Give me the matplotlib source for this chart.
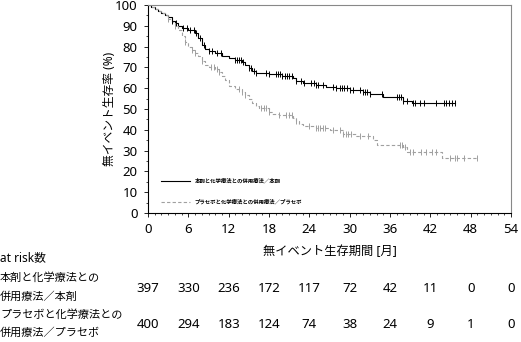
import numpy as np
import matplotlib
matplotlib.use('Agg')
import matplotlib.pyplot as plt
import matplotlib.transforms as mtransforms
from matplotlib.ticker import MultipleLocator

plt.rcParams['font.family'] = ['Noto Sans', 'Noto Sans CJK JP', 'DejaVu Sans']

# Kaplan-Meier step points (months, %)
drug_t = [0, 0.5, 1, 1.5, 2, 2.5, 3, 3.5, 4, 4.5, 5, 6, 7, 7.5, 8, 8.5, 9, 10, 11, 12,
          13, 14, 14.5, 15, 15.5, 16, 18, 20, 21.5, 22, 23, 25, 26.5, 28, 30, 32, 33,
          35, 37, 38, 39.3, 45.6]
drug_s = [100, 99, 98, 97, 96, 95, 94, 92.5, 91.5, 90, 89, 88, 86.5, 84, 81, 79, 78, 77,
          75.5, 74.5, 73.5, 72.5, 71, 69.5, 68.5, 67.5, 67, 66, 65, 63.5, 62.5, 61.5,
          60.5, 60, 59, 58, 57, 56, 55.8, 54, 53, 53]
drug_cens = [3.5, 4.2, 5.2, 5.8, 6.3, 6.8, 7.2, 7.8, 8.3, 9.0, 9.5, 10.2, 10.8, 13.0,
             13.3, 13.6, 13.9, 14.2, 15.0, 15.3, 15.7, 16.0, 17.5, 18.0, 19.0, 19.3,
             19.6, 20.0, 20.4, 20.7, 21.0, 21.4, 22.0, 22.8, 23.2, 24.3, 24.7, 25.0,
             25.3, 26.0, 27.5, 28.0, 28.5, 28.8, 29.2, 29.6, 30.0, 30.5, 31.5, 32.0,
             32.3, 32.6, 33.0, 34.8, 37.0, 37.3, 37.7, 38.0, 38.6, 39.4, 39.7, 40.5,
             41.0, 42.8, 44.0, 44.4, 44.8, 45.2, 45.6]

plac_t = [0, 0.5, 1, 1.5, 2, 2.5, 3, 3.5, 4, 4.5, 5, 5.5, 6, 6.5, 7, 7.5, 8, 8.5, 9,
          10, 10.5, 11, 11.5, 12, 13, 14, 14.5, 15, 15.5, 16, 16.5, 18, 18.5, 19.5,
          21.5, 22, 22.5, 23, 25, 27, 29, 31, 33.5, 34, 38, 38.5, 43.8, 49.0]
plac_s = [100, 99, 98, 97, 96, 95, 93.5, 92, 90, 88, 85, 82, 80, 78.5, 77, 75.5, 73,
          71, 70, 69, 68, 66, 64, 61, 59.5, 58, 56.5, 55, 53, 51.5, 50.5, 48.5, 47.5,
          47, 45.5, 44, 43, 42, 41, 40, 38, 37, 35, 32.5, 31.5, 29.3, 26.4, 26.4]
plac_cens = [3.0, 4.0, 5.5, 6.5, 7.0, 8.0, 9.3, 9.8, 10.2, 10.6, 13.5, 14.0, 14.5,
             16.8, 17.2, 17.6, 18.0, 19.5, 20.6, 21.0, 21.4, 22.0, 24.0, 25.0, 25.3,
             25.6, 26.0, 26.3, 27.5, 28.5, 29.0, 29.5, 29.8, 30.2, 31.5, 32.8, 37.5,
             37.8, 38.3, 39.0, 39.4, 40.6, 41.4, 42.2, 42.8, 45.0, 45.6, 46.0, 47.0, 49.0]

risk_times = [0, 6, 12, 18, 24, 30, 36, 42, 48, 54]
risk_drug = [397, 330, 236, 172, 117, 72, 42, 11, 0, 0]
risk_plac = [400, 294, 183, 124, 74, 38, 24, 9, 1, 0]

label_drug = '本剤と化学療法との併用療法／本剤'
label_plac = 'プラセボと化学療法との併用療法／プラセボ'


def km_at(times, surv, x):
    idx = np.searchsorted(times, x, side='right') - 1
    return np.asarray(surv)[idx]


fig = plt.figure(figsize=(5.21, 3.42), dpi=100)
ax = fig.add_axes([148 / 521, 1 - 213 / 342, 363 / 521, 208 / 342])

ax.plot(drug_t, drug_s, drawstyle='steps-post', color='black', lw=0.8,
        label=label_drug)
ax.plot(plac_t, plac_s, drawstyle='steps-post', color='#a0a0a0', lw=0.8,
        ls=(0, (3, 2)), label=label_plac)
ax.plot(drug_cens, km_at(drug_t, drug_s, drug_cens), ls='none', marker='|',
        ms=4.5, mew=0.7, color='black')
ax.plot(plac_cens, km_at(plac_t, plac_s, plac_cens), ls='none', marker='|',
        ms=4.5, mew=0.7, color='#a0a0a0')

ax.set_xlim(0, 54)
ax.set_ylim(0, 100)
ax.xaxis.set_major_locator(MultipleLocator(6))
ax.xaxis.set_minor_locator(MultipleLocator(1))
ax.yaxis.set_major_locator(MultipleLocator(10))
ax.yaxis.set_minor_locator(MultipleLocator(5))
ax.tick_params(which='major', direction='out', length=3, width=0.6, labelsize=9.5)
ax.tick_params(which='minor', direction='out', length=1.5, width=0.5)
ax.tick_params(axis='x', pad=4)
ax.tick_params(axis='y', pad=4.5)
for side in ('top', 'right'):
    ax.spines[side].set_color('#888888')
for side in ('left', 'bottom'):
    ax.spines[side].set_linewidth(0.8)

ax.set_ylabel('無イベント生存率 (%)', fontsize=8.5, labelpad=-1)
ax.set_xlabel('無イベント生存期間 [月]', fontsize=8.8, labelpad=7)

leg = ax.legend(loc='lower left', bbox_to_anchor=(0.02, 0.015), frameon=False,
                fontsize=3.9, handlelength=5.5, handletextpad=0.8,
                labelspacing=2.8, borderpad=0.5)
for text in leg.get_texts():
    text.set_fontweight('bold')

trans = mtransforms.blended_transform_factory(ax.transData, fig.transFigure)
fig.text(0.0, 1 - 258 / 342, 'at risk数', fontsize=8.5, va='center', ha='left')
fig.text(0.0, 1 - 278 / 342, '本剤と化学療法との', fontsize=8, va='center', ha='left')
fig.text(0.0, 1 - 297 / 342, '併用療法／本剤', fontsize=8, va='center', ha='left')
fig.text(0.0, 1 - 315 / 342, 'プラセボと化学療法との', fontsize=8, va='center', ha='left')
fig.text(0.0, 1 - 333 / 342, '併用療法／プラセボ', fontsize=8, va='center', ha='left')
for t, a, b in zip(risk_times, risk_drug, risk_plac):
    fig.text(t, 1 - 288 / 342, str(a), transform=trans, fontsize=9.5, ha='center',
             va='center')
    fig.text(t, 1 - 325 / 342, str(b), transform=trans, fontsize=9.5, ha='center',
             va='center')

fig.savefig('out.png', dpi=100)
